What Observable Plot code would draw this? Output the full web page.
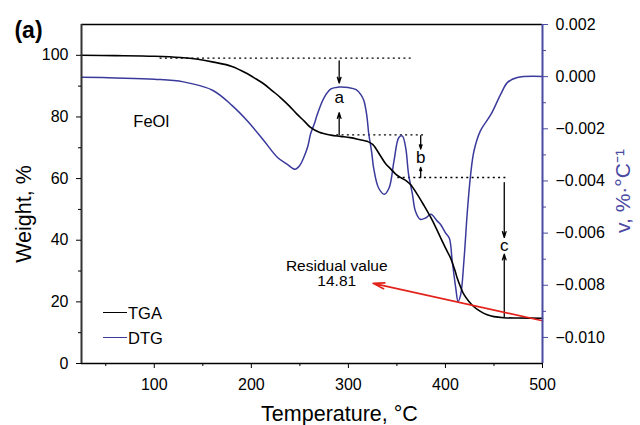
<!DOCTYPE html>
<html><head><meta charset="utf-8">
<script src="https://cdn.jsdelivr.net/npm/d3@7"></script>
<script src="https://cdn.jsdelivr.net/npm/@observablehq/plot@0.6"></script>
<style>
body{margin:0;background:#fff;}
#wrap{position:relative;width:640px;height:425px;font-family:"Liberation Sans",Arial,sans-serif;}
.lg{position:absolute;height:0;border-top:1.6px solid #000;width:24px;}
.lt{position:absolute;font-size:16.5px;line-height:18px;color:#000;}
</style></head><body><div id="wrap"></div>
<script>
// ---- data ----
const tgaT = [25,60,100,127,145,161,180,196,205,213,222,230,239,247,255,261,270,282,292,302,312,320,325,333,338,344,349,354,360,364,371,378,385,390,395,400,405,410,412,416,419,424,429,436,443,450,460,475,500];
const tgaW = [100,99.9,99.7,99.3,98.7,97.8,96.4,94.0,92.3,90.7,88.4,86.3,83.6,80.9,78.5,76.6,75.0,74.1,73.7,73.3,72.6,72.0,71.1,67.4,65.0,63.0,61.4,60.3,59.2,58.1,54.9,51.2,47.3,44.2,40.8,37.5,34.4,30.0,27.8,24.5,22.4,20.2,18.5,16.9,15.8,15.2,14.85,14.75,14.7];
const dtgT = [25,60,100,130,160,180,196,213,227,237,245,250,254,258,261,265,268,275,282,290,300,308,313,316,319,321,324,326,331,337,342,347,352,355.5,359,362,366,369,374,380,385,391.6,395,400,404,407,410.6,413,415.7,419,422.6,426,429.4,436,447,457,464,474,500];
const dtgV = [-0.00002,-0.00005,-0.0001,-0.0002,-0.00052,-0.0011,-0.0017,-0.00246,-0.0031,-0.00336,-0.00355,-0.0034,-0.0031,-0.0027,-0.0022,-0.0018,-0.00144,-0.0008,-0.00047,-0.0004,-0.00042,-0.0005,-0.0007,-0.00092,-0.0015,-0.0022,-0.0029,-0.0035,-0.00426,-0.00451,-0.00426,-0.00323,-0.00233,-0.00227,-0.00272,-0.00374,-0.00451,-0.00515,-0.00547,-0.00541,-0.00528,-0.00554,-0.00567,-0.00599,-0.0062,-0.00708,-0.0081,-0.00862,-0.00836,-0.00708,-0.00515,-0.00374,-0.00285,-0.00208,-0.00144,-0.00067,-0.00022,-0.00003,0.00001];

const xTicks = [100,200,300,400,500];
const xMinor = [50,150,250,350,450];
const yTicks = [0,20,40,60,80,100];
const yMinor = [10,30,50,70,90];
const vTicks = [-0.010,-0.008,-0.006,-0.004,-0.002,0.000,0.002];
const vMinor = [-0.009,-0.007,-0.005,-0.003,-0.001,0.001];

// annotations (temperature, weight)
const dottedLines = [{w:99.1,t1:106,t2:366},{w:74.2,t1:288,t2:379},{w:60.35,t1:351,t2:463}];
const stepArrows = [{t:290.5,from:98.2,to:91.0},{t:290.5,from:74.2,to:81.4},{t:374.5,from:73.9,to:69.6},{t:374.5,from:60.35,to:63.6},{t:460.6,from:58.7,to:40.9},{t:460.6,from:15.2,to:35.5}];
const stepLabels = [{t:290.5,w:86.2,text:"a"},{t:374.5,w:66.8,text:"b"},{t:460.6,w:38.2,text:"c"}];
const residualArrow = [{t1:500,w1:13.85,t2:325.5,w2:26.0}];
const residualText = [{t:288,w:29.2,text:"Residual value\n14.81"}];
const sampleLabel = [{t:78.4,w:78.4,text:"FeOl"}];

// ---- scales ----
const W_MAX = 110, V_MIN = -0.011, V_MAX = 0.002;
const toW = v => (v - V_MIN) / (V_MAX - V_MIN) * W_MAX;
const toV = w => w / W_MAX * (V_MAX - V_MIN) + V_MIN;
const fmtV = d3.format(".3f");
const BLUE = "#3a3a9c", AXBLUE = "#4a4aa2", RED = "#e3231b";

const tga = tgaT.map((t,i) => ({t, w: tgaW[i]}));
const dtg = dtgT.map((t,i) => ({t, w: toW(dtgV[i])}));

const chart = Plot.plot({
  width: 640, height: 425,
  marginLeft: 81, marginRight: 98, marginTop: 24, marginBottom: 62,
  x: {domain: [25, 500], axis: null},
  y: {domain: [0, W_MAX], axis: null},
  style: {fontFamily: '"Liberation Sans", Arial, sans-serif', fontSize: "16px", background: "transparent", overflow: "visible"},
  marks: [
    Plot.ruleY(dottedLines, {y: "w", x1: "t1", x2: "t2", stroke: "#000", strokeWidth: 1.3, strokeDasharray: "2,3.3"}),
    Plot.line(dtg, {x: "t", y: "w", stroke: BLUE, strokeWidth: 1.5, curve: "catmull-rom"}),
    Plot.line(tga, {x: "t", y: "w", stroke: "#000", strokeWidth: 1.6, curve: "catmull-rom"}),
    Plot.arrow(stepArrows, {x1: "t", y1: "from", x2: "t", y2: "to", stroke: "#000", strokeWidth: 1.3, headLength: 7, headAngle: 35}),
    Plot.text(stepLabels, {x: "t", y: "w", text: "text", fontSize: 17}),
    Plot.arrow(residualArrow, {x1: "t1", y1: "w1", x2: "t2", y2: "w2", stroke: RED, strokeWidth: 1.6, headLength: 11, headAngle: 30}),
    Plot.text(residualText, {x: "t", y: "w", text: "text", fontSize: 15.5, lineHeight: 1.0}),
    Plot.text(sampleLabel, {x: "t", y: "w", text: "text", fontSize: 16.5, textAnchor: "start"}),
    // frame
    Plot.ruleY([W_MAX], {stroke: "#000", strokeWidth: 1.5}),
    Plot.ruleY([0], {stroke: "#000", strokeWidth: 1.6}),
    Plot.ruleX([25], {stroke: "#333", strokeWidth: 2}),
    Plot.ruleX([500], {stroke: AXBLUE, strokeWidth: 2}),
    // axes
    Plot.axisX(xTicks, {anchor: "bottom", tickSize: 5, tickPadding: 10, fontSize: 16, label: null, stroke: "#000"}),
    Plot.axisX(xMinor, {anchor: "bottom", tickSize: 3, tickFormat: () => "", label: null, stroke: "#000"}),
    Plot.axisY(yTicks, {anchor: "left", tickSize: 5, tickPadding: 8, fontSize: 16, label: null, stroke: "#000"}),
    Plot.axisY(yMinor, {anchor: "left", tickSize: 3, tickFormat: () => "", label: null, stroke: "#000"}),
    Plot.axisY(vTicks.map(toW), {anchor: "right", tickSize: 5, tickPadding: 8, fontSize: 16, label: null, stroke: AXBLUE, fill: "#000",
      tickFormat: w => fmtV(Math.round(toV(w) * 1000) / 1000)}),
    Plot.axisY(vMinor.map(toW), {anchor: "right", tickSize: 3, tickFormat: () => "", label: null, stroke: AXBLUE}),
    // axis titles
    Plot.text(["Weight, %"], {frameAnchor: "left", dx: -57, dy: 20, rotate: -90, fontSize: 21.5, textAnchor: "middle", lineAnchor: "middle"}),
    Plot.text(["v, %·°C⁻¹"], {frameAnchor: "right", dx: 81, dy: -3, rotate: -90, fontSize: 21, fill: AXBLUE, textAnchor: "middle", lineAnchor: "middle"}),
    Plot.text(["Temperature, °C"], {frameAnchor: "bottom", dx: 27.5, dy: 51, fontSize: 21.5, textAnchor: "middle", lineAnchor: "middle"}),
    Plot.text(["(a)"], {frameAnchor: "top-left", dx: -53, dy: 6, fontSize: 23, fontWeight: "bold", textAnchor: "middle", lineAnchor: "middle"})
  ]
});
const wrap = document.getElementById("wrap");
wrap.appendChild(chart);

// legend
const legend = [{name: "TGA", color: "#000", top: 313}, {name: "DTG", color: BLUE, top: 338}];
for (const l of legend) {
  const ln = document.createElement("div");
  ln.className = "lg"; ln.style.left = "103px"; ln.style.top = (l.top - 1) + "px"; ln.style.borderTopColor = l.color;
  wrap.appendChild(ln);
  const tx = document.createElement("div");
  tx.className = "lt"; tx.style.left = "128px"; tx.style.top = (l.top - 9) + "px"; tx.textContent = l.name;
  wrap.appendChild(tx);
}
</script></body></html>
